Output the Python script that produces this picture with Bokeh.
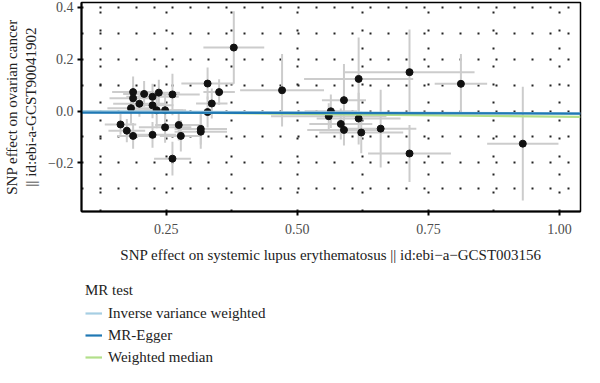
from bokeh.plotting import figure
from bokeh.layouts import column
from bokeh.models import FixedTicker, Range1d, Legend, LegendItem, ColumnDataSource
from bokeh.embed import file_html
from bokeh.resources import INLINE

# SNP effects (exposure: SLE, outcome: ovarian cancer)
beta_exp = [0.379, 0.471, 0.329, 0.351, 0.337, 0.329, 0.316, 0.316, 0.262, 0.262,
            0.274, 0.278, 0.248, 0.248, 0.232, 0.236, 0.224, 0.224, 0.224, 0.208,
            0.199, 0.187, 0.187, 0.183, 0.187, 0.175, 0.163,
            0.714, 0.812, 0.617, 0.589, 0.564, 0.560, 0.583, 0.589, 0.617, 0.622,
            0.659, 0.714, 0.930]
beta_out = [0.245, 0.080, 0.106, 0.073, 0.029, -0.004, -0.069, -0.080, 0.064, -0.184,
            -0.054, -0.096, -0.063, 0.003, 0.003, 0.071, 0.055, 0.022, -0.092, 0.066,
            0.028, 0.073, 0.049, 0.011, -0.096, -0.076, -0.052,
            0.150, 0.105, 0.124, 0.042, -0.001, -0.020, -0.050, -0.073, -0.029, -0.083,
            -0.068, -0.164, -0.126]
se_exp = [0.058, 0.080, 0.050, 0.030, 0.030, 0.050, 0.050, 0.050, 0.052, 0.035,
          0.045, 0.040, 0.050, 0.040, 0.050, 0.040, 0.050, 0.040, 0.045, 0.040,
          0.050, 0.040, 0.045, 0.045, 0.030, 0.035, 0.030,
          0.124, 0.050, 0.104, 0.042, 0.050, 0.110, 0.060, 0.070, 0.080, 0.080,
          0.068, 0.079, 0.068]
se_out = [0.140, 0.140, 0.062, 0.050, 0.058, 0.060, 0.060, 0.066, 0.080, 0.065,
          0.060, 0.060, 0.060, 0.060, 0.070, 0.050, 0.050, 0.050, 0.050, 0.050,
          0.050, 0.060, 0.050, 0.060, 0.050, 0.045, 0.040,
          0.165, 0.115, 0.160, 0.140, 0.065, 0.050, 0.060, 0.060, 0.100, 0.080,
          0.150, 0.110, 0.220]

# MR methods: intercept and slope
methods = ["Inverse variance weighted", "MR-Egger", "Weighted median"]
intercepts = [0.0, -0.0057, 0.0]
slopes = [-0.009, -0.004, -0.022]
method_colors = ["#a6cee3", "#1f78b4", "#b2df8a"]
draw_order = [2, 0, 1]

x_ticks = [0.25, 0.50, 0.75, 1.00]
x_minor = [0.125, 0.375, 0.625, 0.875]
y_ticks = [-0.2, 0.0, 0.2, 0.4]
y_minor = [-0.3, -0.1, 0.1, 0.3]

XMIN, XMAX = 0.0886, 1.04
YMIN, YMAX = -0.388, 0.419

SERIF = "Liberation Serif"
W = 584
LEFT = 72

p = figure(width=W, height=265, output_backend="svg", toolbar_location=None,
           x_range=Range1d(XMIN, XMAX), y_range=Range1d(YMIN, YMAX),
           min_border_left=LEFT, min_border_right=4, min_border_top=2, min_border_bottom=0)
p.background_fill_color = "white"
p.border_fill_color = "white"
p.outline_line_color = "black"
p.outline_line_width = 1.5

# grid: dotted black
for g in (p.xgrid, p.ygrid):
    g.grid_line_color = "#222222"
    g.grid_line_width = 2
    g.grid_line_dash = "2 16"
    g.minor_grid_line_color = "#222222"
    g.minor_grid_line_width = 2
    g.minor_grid_line_dash = "2 16"

p.xaxis.ticker = FixedTicker(ticks=x_ticks, minor_ticks=x_minor)
p.yaxis.ticker = FixedTicker(ticks=y_ticks, minor_ticks=y_minor)
p.xaxis.major_label_overrides = {t: f"{t:.2f}" for t in x_ticks}
p.yaxis.major_label_overrides = {t: ("0.0" if t == 0 else f"{t:.1f}".replace("-", "\u2212")) for t in y_ticks}

for ax in (p.xaxis, p.yaxis):
    ax.axis_line_color = "black"
    ax.axis_line_width = 2
    ax.major_tick_line_color = "black"
    ax.major_tick_line_width = 2
    ax.major_tick_out = 4
    ax.major_tick_in = 0
    ax.minor_tick_line_color = None
    ax.major_label_text_font = SERIF
    ax.major_label_text_font_size = "14px"
    ax.major_label_text_color = "#4d4d4d"
    ax.axis_label_text_font = SERIF
    ax.axis_label_text_font_size = "15px"
    ax.axis_label_text_font_style = "normal"
    ax.axis_label_text_color = "#222222"

p.xaxis.major_label_standoff = 8
p.xaxis.axis_label_standoff = 10
p.yaxis.major_label_standoff = 4
p.yaxis.axis_label_standoff = 6
p.xaxis.axis_label = "SNP effect on systemic lupus erythematosus || id:ebi\u2212a\u2212GCST003156"
p.yaxis.axis_label = "SNP effect on ovarian cancer\n|| id:ebi-a-GCST90041902"

# error bars
src = ColumnDataSource(dict(
    x=beta_exp, y=beta_out,
    x0=[a - b for a, b in zip(beta_exp, se_exp)], x1=[a + b for a, b in zip(beta_exp, se_exp)],
    y0=[a - b for a, b in zip(beta_out, se_out)], y1=[a + b for a, b in zip(beta_out, se_out)],
))
p.segment(x0="x", x1="x", y0="y0", y1="y1", source=src, line_color="#cccccc", line_width=2)
p.segment(x0="x0", x1="x1", y0="y", y1="y", source=src, line_color="#cccccc", line_width=2)
p.scatter(x="x", y="y", source=src, size=7, fill_color="#111111", line_color="#111111")

# MR lines
for i in draw_order:
    xs = [XMIN, XMAX]
    ys = [intercepts[i] + slopes[i] * xx for xx in xs]
    p.line(xs, ys, line_color=method_colors[i], line_width=2.2)

# legend figure below the plot (lines lie outside its visible range; only legend keys show)
q = figure(width=W, height=102, output_backend="svg", toolbar_location=None,
           x_range=Range1d(XMIN, XMAX), y_range=Range1d(10, 11),
           min_border_left=LEFT - 6, min_border_right=4, min_border_top=0, min_border_bottom=0)
q.axis.visible = False
q.grid.visible = False
q.outline_line_color = None
items = []
for name, a, b, c in zip(methods, intercepts, slopes, method_colors):
    xs = [XMIN, XMAX]
    ys = [a + b * xx for xx in xs]
    r = q.line(xs, ys, line_color=c, line_width=2.2)
    items.append(LegendItem(label=name, renderers=[r]))

legend = Legend(items=items, title="MR test", location=(4, 1))
legend.title_text_font = SERIF
legend.title_text_font_size = "15px"
legend.title_text_font_style = "normal"
legend.title_text_color = "#222222"
legend.title_standoff = 5
legend.label_text_font = SERIF
legend.label_text_font_size = "15px"
legend.label_text_color = "#222222"
legend.glyph_width = 17
legend.glyph_height = 18
legend.label_height = 18
legend.label_standoff = 6
legend.spacing = 4
legend.padding = 2
legend.margin = 0
legend.border_line_color = None
legend.background_fill_color = None
q.add_layout(legend)

open("out.html", "w").write(file_html(column(p, q, spacing=0), INLINE))
